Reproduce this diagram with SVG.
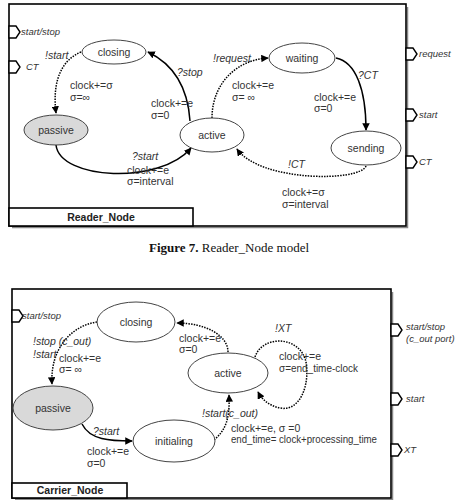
<svg xmlns="http://www.w3.org/2000/svg" width="460" height="500" viewBox="0 0 460 500">
<defs>
<marker id="ah" viewBox="0 0 10 10" refX="9" refY="5" markerWidth="5" markerHeight="5" orient="auto-start-reverse"><path d="M0,0 L10,5 L0,10 z" fill="#000"/></marker>
<style>
.frame{fill:#fff;stroke:#000;stroke-width:1.6}
.shadow{fill:none;stroke:#888;stroke-width:1.5}
.port{fill:#fff;stroke:#000;stroke-width:1.4}
.node{fill:#fff;stroke:#444;stroke-width:1}
.pas{fill:#d9d9d9;stroke:#444;stroke-width:1}
.nt{font-family:"Liberation Sans",Arial,sans-serif;font-size:10.5px;fill:#333;text-anchor:middle}
.lb{font-family:"Liberation Sans",Arial,sans-serif;font-size:10.5px;fill:#333}
.it{font-family:"Liberation Sans",Arial,sans-serif;font-size:10.5px;font-style:italic;fill:#333}
.pl{font-family:"Liberation Sans",Arial,sans-serif;font-size:9.5px;font-style:italic;fill:#333}
.solid{fill:none;stroke:#000;stroke-width:1.5;marker-end:url(#ah)}
.dot{fill:none;stroke:#000;stroke-width:1.5;stroke-dasharray:1.5 1.2;marker-end:url(#ah)}
.title{font-family:"Liberation Sans",Arial,sans-serif;font-size:10.5px;font-weight:bold;fill:#222;text-anchor:middle}
.cap{font-family:"Liberation Serif","Times New Roman",serif;font-size:13px;fill:#111;text-anchor:middle}
</style>
</defs>
<rect width="460" height="500" fill="#fff"/>

<!-- Top diagram frame -->
<g id="reader_frame">
<path class="shadow" d="M12,227.5 H407.5 V7"/>
<rect class="frame" x="9" y="4" width="397" height="222"/>
<rect class="frame" x="9" y="208" width="184" height="18"/>
<text class="title" x="101" y="221">Reader_Node</text>
</g>
<g id="reader_ports">
<path class="port" d="M9,26 H16 L20,32 L16,38 H9 Z"/>
<text class="pl" x="21" y="35">start/stop</text>
<path class="port" d="M9,61 H16 L20,67 L16,73 H9 Z"/>
<text class="pl" x="26" y="70">CT</text>
<path class="port" d="M406,48 H413 L417,54 L413,60 H406 Z"/>
<text class="pl" x="419" y="57">request</text>
<path class="port" d="M406,109 H413 L417,115 L413,121 H406 Z"/>
<text class="pl" x="419" y="118">start</text>
<path class="port" d="M406,156 H413 L417,162 L413,168 H406 Z"/>
<text class="pl" x="419" y="165">CT</text>
</g>

<g id="r_connectors">
<path class="dot" d="M81,52 C62,60 52,80 56,113"/>
<path class="solid" d="M190,121 C188,90 175,65 148,52"/>
<path class="solid" d="M56,145 C60,180 160,185 191,148"/>
<path class="dot" d="M212,118 C212,85 235,60 268,58"/>
<path class="solid" d="M336,58 C356,62 366,90 366,130"/>
<path class="dot" d="M366,166 C360,182 260,182 237,149"/>
</g>
<g id="r_labels">
<text class="it" x="45" y="59">!start</text>
<text class="lb" x="70" y="89">clock+=σ</text>
<text class="lb" x="70" y="101">σ=∞</text>
<text class="it" x="177" y="76">?stop</text>
<text class="lb" x="151" y="107">clock+=e</text>
<text class="lb" x="151" y="119">σ=0</text>
<text class="it" x="132" y="160">?start</text>
<text class="lb" x="127" y="174">clock+=e</text>
<text class="lb" x="127" y="185">σ=interval</text>
<text class="it" x="213" y="62">!request</text>
<text class="lb" x="232" y="89">clock+=e</text>
<text class="lb" x="232" y="101">σ= ∞</text>
<text class="it" x="358" y="79">?CT</text>
<text class="lb" x="314" y="101">clock+=e</text>
<text class="lb" x="314" y="112">σ=0</text>
<text class="it" x="288" y="168">!CT</text>
<text class="lb" x="282" y="196">clock+=σ</text>
<text class="lb" x="282" y="208">σ=interval</text>
</g>

<g id="r_closing"><ellipse class="node" cx="114" cy="52" rx="32" ry="12"/><text class="nt" x="114" y="56">closing</text></g>
<g id="r_passive"><ellipse class="pas" cx="56" cy="130" rx="32" ry="15"/><text class="nt" x="56" y="134">passive</text></g>
<g id="r_active"><ellipse class="node" cx="212" cy="135" rx="32" ry="17"/><text class="nt" x="212" y="139">active</text></g>
<g id="r_waiting"><ellipse class="node" cx="302" cy="58" rx="33" ry="15"/><text class="nt" x="302" y="62">waiting</text></g>
<g id="r_sending"><ellipse class="node" cx="366" cy="148" rx="35" ry="17"/><text class="nt" x="366" y="152">sending</text></g>

<text class="cap" x="229" y="252"><tspan font-weight="bold">Figure 7.</tspan> Reader_Node model</text>

<!-- Bottom diagram frame -->
<g id="carrier_frame">
<path class="shadow" d="M15,499.5 H392.5 V292"/>
<rect class="frame" x="12" y="289" width="379" height="209"/>
<rect class="frame" x="12" y="483" width="115" height="15"/>
<text class="title" x="70" y="494">Carrier_Node</text>
</g>
<g id="carrier_ports">
<path class="port" d="M12,310 H19 L23,316 L19,322 H12 Z"/>
<text class="pl" x="22" y="319">start/stop</text>
<path class="port" d="M391,324 H398 L402,330 L398,336 H391 Z"/>
<text class="pl" x="406" y="330">start/stop</text>
<text class="pl" x="406" y="342">(c_out port)</text>
<path class="port" d="M391,393 H398 L402,399 L398,405 H391 Z"/>
<text class="pl" x="406" y="402">start</text>
<path class="port" d="M391,444 H398 L402,450 L398,456 H391 Z"/>
<text class="pl" x="404" y="453">XT</text>
</g>

<g id="c_connectors">
<path class="dot" d="M97,322 C70,326 50,350 52,384"/>
<path class="dot" d="M228,352 C228,335 205,323 177,323"/>
<path class="dot" d="M255,357 C262,335 300,335 306,362 C310,385 300,412 280,408 C270,406 262,400 258,392"/>
<path class="solid" d="M82,424 C90,440 110,441 132,441"/>
<path class="dot" d="M214,440 C226,430 230,418 229,395"/>
</g>
<g id="c_labels">
<text class="it" x="33" y="345">!stop (c_out)</text>
<text class="it" x="33" y="358">!start</text>
<text class="lb" x="59" y="362">clock+=e</text>
<text class="lb" x="59" y="373">σ= ∞</text>
<text class="lb" x="179" y="342">clock+=e</text>
<text class="lb" x="179" y="353">σ=0</text>
<text class="it" x="275" y="332">!XT</text>
<text class="lb" x="279" y="360">clock+=e</text>
<text class="lb" x="279" y="372" textLength="79" lengthAdjust="spacingAndGlyphs">σ=end_time-clock</text>
<text class="it" x="93" y="435">?start</text>
<text class="lb" x="87" y="455">clock+=e</text>
<text class="lb" x="87" y="467">σ=0</text>
<text class="it" x="202" y="417">!start(c_out)</text>
<text class="lb" x="231" y="432">clock+=e, σ =0</text>
<text class="lb" x="231" y="443" textLength="146" lengthAdjust="spacingAndGlyphs">end_time= clock+processing_time</text>
</g>

<g id="c_closing"><ellipse class="node" cx="136" cy="322" rx="39" ry="20"/><text class="nt" x="136" y="326">closing</text></g>
<g id="c_active"><ellipse class="node" cx="228" cy="373" rx="40" ry="20"/><text class="nt" x="228" y="377">active</text></g>
<g id="c_passive"><ellipse class="pas" cx="53" cy="408" rx="40" ry="22"/><text class="nt" x="53" y="412">passive</text></g>
<g id="c_initialing"><ellipse class="node" cx="174" cy="441" rx="41" ry="21"/><text class="nt" x="174" y="445">initialing</text></g>
</svg>
